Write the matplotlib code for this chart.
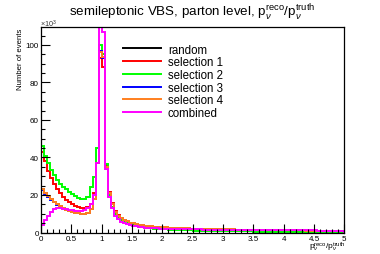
import numpy as np
import matplotlib
matplotlib.use("Agg")
import matplotlib.pyplot as plt

plt.rcParams["font.family"] = ["Liberation Sans", "DejaVu Sans"]
plt.rcParams["mathtext.fontset"] = "custom"
plt.rcParams["mathtext.rm"] = "Liberation Sans"
plt.rcParams["mathtext.it"] = "Liberation Sans:italic"

# histogram range / binning (100 bins on 0..5)
x_lo, x_hi, n_bins = 0.0, 5.0, 100

# bin contents in units of 10^3 events
random = [
    23, 21, 19.5, 18, 16.5, 15, 14, 13, 12, 11.5, 11, 10.5, 10.5, 10, 10, 10.5, 12.5, 18, 37,
    97, 93, 35, 21, 15, 11, 9, 7.6, 6.6, 5.9, 5.3, 4.9,
    4.5, 4.2, 3.9, 3.7, 3.5, 3.3, 3.1, 3.0, 2.9, 2.8,
    2.7, 2.6, 2.5, 2.4, 2.35, 2.3, 2.2, 2.15, 2.1, 2.05,
    2.0, 1.95, 1.9, 1.9, 1.85, 1.8, 1.8, 1.75, 1.7, 1.7,
    1.65, 1.6, 1.6, 1.55, 1.55, 1.5, 1.5, 1.45, 1.45, 1.4,
    1.4, 1.35, 1.35, 1.3, 1.3, 1.3, 1.25, 1.25, 1.2, 1.2,
    1.2, 1.15, 1.15, 1.1, 1.1, 1.1, 1.05, 1.05, 1.05, 1.0,
    1.0, 1.0, 0.95, 0.95, 0.95, 0.9, 0.9, 0.9, 0.9,
]
selection1 = [
    43, 38, 33, 29, 26, 23, 21, 19, 17.5, 16, 15, 14, 13.5, 13, 13, 13.5, 15, 21, 37,
    93, 88, 36, 21.5, 15.5, 11.5, 9.3, 7.8, 6.7, 5.9, 5.2, 4.7,
    4.3, 3.9, 3.6, 3.4, 3.2, 3.0, 2.8, 2.7, 2.6, 2.5,
    2.4, 2.3, 2.2, 2.15, 2.1, 2.0, 1.95, 1.9, 1.85, 1.8,
    1.75, 1.7, 1.65, 1.6, 1.6, 1.55, 1.5, 1.5, 1.45, 1.4,
    1.4, 1.35, 1.35, 1.3, 1.3, 1.25, 1.25, 1.2, 1.2, 1.2,
    1.15, 1.15, 1.1, 1.1, 1.1, 1.05, 1.05, 1.05, 1.0, 1.0,
    1.0, 1.0, 0.95, 0.95, 0.95, 0.95, 0.9, 0.9, 0.9, 0.9,
    0.9, 0.85, 0.85, 0.85, 0.85, 0.85, 0.8, 0.8, 0.8,
]
selection2 = [
    46, 41, 37, 33.5, 30.5, 28, 26, 24.5, 23, 21.5, 20.5, 19.5, 18.5, 18, 18, 18.8, 24, 29.5, 45,
    100, 95, 36.5, 20, 13.5, 10, 8, 6.5, 5.5, 4.8, 4.2, 3.8,
    3.4, 3.1, 2.8, 2.6, 2.4, 2.2, 2.0, 1.9, 1.8, 1.7,
    1.6, 1.5, 1.45, 1.4, 1.3, 1.25, 1.2, 1.15, 1.1, 1.05,
    1.0, 0.95, 0.9, 0.9, 0.85, 0.8, 0.8, 0.75, 0.75, 0.7,
    0.7, 0.65, 0.65, 0.6, 0.6, 0.6, 0.55, 0.55, 0.55, 0.5,
    0.5, 0.5, 0.45, 0.45, 0.45, 0.45, 0.4, 0.4, 0.4, 0.4,
    0.4, 0.4, 0.35, 0.35, 0.35, 0.35, 0.35, 0.3, 0.3, 0.3,
    0.3, 0.3, 0.3, 0.3, 0.3, 0.3, 0.3, 0.3, 0.3,
]
selection3 = [
    22.5, 20.5, 19, 17.5, 16, 14.8, 13.8, 12.8, 12, 11.3, 10.8, 10.4, 10.2, 10, 10, 10.5, 12.5, 18, 37,
    96.5, 93, 35, 21, 15, 11, 9, 7.6, 6.6, 5.9, 5.3, 4.9,
    4.5, 4.2, 3.9, 3.7, 3.5, 3.3, 3.1, 3.0, 2.9, 2.8,
    2.7, 2.6, 2.5, 2.4, 2.35, 2.3, 2.2, 2.15, 2.1, 2.05,
    2.0, 1.95, 1.9, 1.9, 1.85, 1.8, 1.8, 1.75, 1.7, 1.7,
    1.65, 1.6, 1.6, 1.55, 1.55, 1.5, 1.5, 1.45, 1.45, 1.4,
    1.4, 1.35, 1.35, 1.3, 1.3, 1.3, 1.25, 1.25, 1.2, 1.2,
    1.2, 1.15, 1.15, 1.1, 1.1, 1.1, 1.05, 1.05, 1.05, 1.0,
    1.0, 1.0, 0.95, 0.95, 0.95, 0.9, 0.9, 0.9, 0.9,
]
selection4 = [
    23, 21, 19.5, 18, 16.5, 15, 14, 13, 12, 11.5, 11, 10.5, 10.5, 10, 10, 10.5, 12.5, 18, 37,
    96, 93.5, 35, 21, 15, 11, 9, 7.6, 6.6, 5.9, 5.3, 4.9,
    4.5, 4.2, 3.9, 3.7, 3.5, 3.3, 3.1, 3.0, 2.9, 2.8,
    2.7, 2.6, 2.5, 2.4, 2.35, 2.3, 2.2, 2.15, 2.1, 2.05,
    2.0, 1.95, 1.9, 1.9, 1.85, 1.8, 1.8, 1.75, 1.7, 1.7,
    1.65, 1.6, 1.6, 1.55, 1.55, 1.5, 1.5, 1.45, 1.45, 1.4,
    1.4, 1.35, 1.35, 1.3, 1.3, 1.3, 1.25, 1.25, 1.2, 1.2,
    1.2, 1.15, 1.15, 1.1, 1.1, 1.1, 1.05, 1.05, 1.05, 1.0,
    1.0, 1.0, 0.95, 0.95, 0.95, 0.9, 0.9, 0.9, 0.9,
]
combined = [
    4, 6.5, 9, 11, 12.5, 13, 13, 12.5, 12.5, 12, 12, 11.5, 11.5, 11.5, 12, 13, 15, 20, 37,
    112, 107, 34, 19, 13, 9, 7, 5.8, 5.0, 4.4, 3.9, 3.5,
    3.2, 3.0, 2.8, 2.6, 2.5, 2.4, 2.3, 2.2, 2.1, 2.05,
    2.0, 1.95, 1.9, 1.85, 1.8, 1.8, 1.75, 1.7, 1.7, 1.65,
    1.6, 1.6, 1.55, 1.55, 1.5, 1.5, 1.5, 1.45, 1.45, 1.4,
    1.4, 1.4, 1.35, 1.35, 1.35, 1.3, 1.3, 1.3, 1.3, 1.25,
    1.25, 1.25, 1.25, 1.2, 1.2, 1.2, 1.2, 1.2, 1.15, 1.15,
    1.15, 1.15, 1.1, 1.1, 1.1, 1.1, 1.1, 1.1, 1.1, 1.1,
    1.05, 1.05, 1.05, 1.05, 1.05, 1.0, 1.0, 1.0, 1.0,
]

series = [
    ("random", random, "black"),
    ("selection 1", selection1, "#ff0000"),
    ("selection 2", selection2, "#00ff00"),
    ("selection 3", selection3, "#0000ff"),
    ("selection 4", selection4, "#ff7f1e"),
    ("combined", combined, "#ff00ff"),
]

y_ticks = [0, 20, 40, 60, 80, 100]
x_ticks = [0, 0.5, 1, 1.5, 2, 2.5, 3, 3.5, 4, 4.5, 5]
x_tick_labels = ["0", "0.5", "1", "1.5", "2", "2.5", "3", "3.5", "4", "4.5", "5"]

edges = np.linspace(x_lo, x_hi, n_bins + 1)

fig = plt.figure(figsize=(3.8, 2.55), dpi=100)
ax = fig.add_axes([41 / 380, 1 - 233.5 / 255, (344.3 - 41) / 380, (233.5 - 28.3) / 255])

for label, vals, col in series:
    ax.stairs(vals, edges, color=col, lw=1.4, label=label)

ax.set_xlim(x_lo, x_hi)
ax.set_ylim(0, 109.4)
ax.set_xticks(x_ticks)
ax.set_xticklabels(x_tick_labels)
ax.set_yticks(y_ticks)
ax.set_xticks(np.arange(0, 5.01, 0.1), minor=True)
ax.set_yticks(np.arange(0, 109, 5), minor=True)
ax.tick_params(which="both", direction="in", top=False, right=False,
               labelsize=5.8, pad=1.5, width=0.8)
ax.tick_params(which="major", length=6.5)
ax.tick_params(which="minor", length=3.2)
for sp in ax.spines.values():
    sp.set_linewidth(0.9)

fig.text(0.505, 1 - 13 / 255,
         r"semileptonic VBS, parton level, p$_{\nu}^{\rm reco}$/p$_{\nu}^{\rm truth}$",
         ha="center", va="center", fontsize=9.6)
fig.text(40 / 380, 1 - 24.5 / 255, r"$\times$10$^{3}$", ha="left", va="center",
         fontsize=5.2, color="#333333")
fig.text(20 / 380, 1 - 29 / 255, "Number of events", rotation=90,
         ha="center", va="top", fontsize=5.6)
fig.text(346 / 380, 1 - 250 / 255,
         r"p$_{\nu}^{\rm reco}$/p$_{\nu}^{\rm truth}$", ha="right", va="baseline",
         fontsize=6.0)

leg = ax.legend(loc="upper left", bbox_to_anchor=(123 / 380, 1 - 44.5 / 255),
                bbox_transform=fig.transFigure, frameon=False, fontsize=8.3,
                handlelength=3.3, handletextpad=0.6, labelspacing=0.06,
                borderpad=0, borderaxespad=0)
for h in leg.get_lines():
    h.set_linewidth(1.4)

fig.savefig("out.png", dpi=100)
